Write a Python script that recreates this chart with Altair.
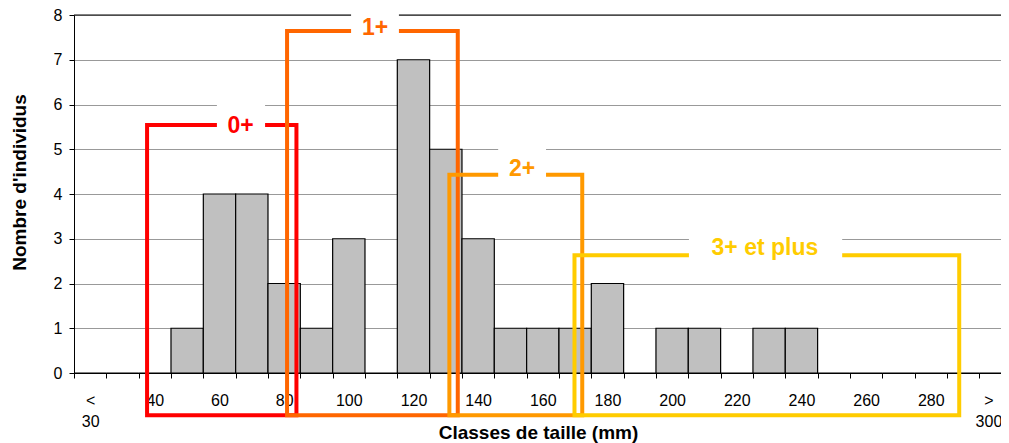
import json
import altair as alt
import pandas as pd

# Size classes (mm) and number of individuals
classes = ["<30", "30", "40", "50", "60", "70", "80", "90", "100", "110", "120",
           "130", "140", "150", "160", "170", "180", "190", "200", "210", "220",
           "230", "240", "250", "260", "270", "280", "290", ">300"]
counts = [0, 0, 0, 1, 4, 4, 2, 1, 3, 0, 7, 5, 3, 1, 1, 1, 2, 0, 1, 1, 0, 1, 1,
          0, 0, 0, 0, 0, 0]

# Age-class frames (x in class-index units, y in count units)
age_labels = ["0+", "1+", "2+", "3+ et plus"]
age_colors = ["#FF0000", "#FF6600", "#FF9900", "#FFCC00"]
age_x_start = [2.26, 6.59, 11.61, 15.48]
age_x_end = [6.88, 11.87, 15.72, 27.38]
age_y_top = [5.54, 7.64, 4.43, 2.63]
age_y_bottom = [-0.945, -0.945, -0.945, -0.945]
label_x = [5.15, 9.31, 13.86, 21.37]
label_y = [5.51, 7.72, 4.55, 2.79]
box_x_start = [4.42, 8.57, 13.12, 19.02]
box_x_end = [5.91, 10.05, 14.60, 23.76]
box_y_top = [6.03, 8.16, 5.07, 3.15]
box_y_bottom = [5.21, 7.44, 4.27, 2.48]

FONT = "Liberation Sans"
XRANGE = [0, 937.6]

bars_df = pd.DataFrame({"classe": classes, "n": counts})
ages_df = pd.DataFrame({
    "age": age_labels, "x0": age_x_start, "x1": age_x_end,
    "y0": age_y_bottom, "y1": age_y_top,
    "lx": label_x, "ly": label_y,
    "bx0": box_x_start, "bx1": box_x_end, "by0": box_y_bottom, "by1": box_y_top,
})

yscale = alt.Scale(domain=[0, 8], nice=False, zero=False)
xq = alt.Scale(domain=[0, 29], range=XRANGE, nice=False, zero=False)
col = alt.Color("age:N", scale=alt.Scale(domain=age_labels, range=age_colors), legend=None)

yaxis = alt.Axis(values=list(range(9)), tickSize=5, tickColor="black",
                 domainColor="black", gridColor="#999999", labelFontSize=16,
                 labelPadding=7, labelColor="black", title="Nombre d'individus",
                 titleFontSize=19, titleFontWeight="bold", titleX=-49, titleY=167,
                 titleAngle=-90, titleAlign="center", titleBaseline="alphabetic",
                 titleColor="black")

label_expr = (
    "datum.value == '<30' ? ['<', '30'] : datum.value == '>300' ? ['>', '300'] : "
    "(indexof(" + json.dumps(classes) + ", datum.value) % 2 == 0 ? datum.value : '')"
)

top_line = alt.Chart(pd.DataFrame({"v": [8], "a": [0], "b": [29]})).mark_rule(
    color="black", strokeWidth=1).encode(
    x=alt.X("a:Q", scale=xq, axis=None), x2="b:Q",
    y=alt.Y("v:Q", scale=yscale, axis=yaxis),
)

bars = alt.Chart(bars_df).mark_bar(color="#C0C0C0", stroke="black", strokeWidth=1.2).encode(
    x=alt.X("classe:N", sort=classes,
            scale=alt.Scale(range=XRANGE, paddingInner=0, paddingOuter=0),
            axis=alt.Axis(tickBand="extent", tickSize=5, tickColor="black",
                          domainColor="black", labelExpr=label_expr, labelAngle=0,
                          labelFontSize=16, labelPadding=14, labelLineHeight=21,
                          labelBaseline="top", labelColor="black", labelOverlap=False,
                          labelOffset={"condition": {"test": "datum.value == '>300'", "value": -7},
                                       "value": 0},
                          grid=False, title="Classes de taille (mm)", titleFontSize=19,
                          titleFontWeight="bold", titleX=464, titleY=65,
                          titleBaseline="alphabetic", titleAlign="center",
                          titleColor="black")),
    y=alt.Y("n:Q", scale=yscale, axis=yaxis),
)

frames = alt.Chart(ages_df).mark_rect(fillOpacity=0, strokeWidth=4).encode(
    x=alt.X("x0:Q", scale=xq, axis=None), x2="x1:Q",
    y=alt.Y("y0:Q", scale=yscale, axis=yaxis), y2="y1:Q",
    stroke=alt.Stroke("age:N", scale=alt.Scale(domain=age_labels, range=age_colors), legend=None),
    order=alt.Order("x0:Q"),
)

boxes = alt.Chart(ages_df).mark_rect(color="white").encode(
    x=alt.X("bx0:Q", scale=xq, axis=None), x2="bx1:Q",
    y=alt.Y("by0:Q", scale=yscale, axis=yaxis), y2="by1:Q",
)

texts = alt.Chart(ages_df).mark_text(fontSize=23, fontWeight="bold", font=FONT,
                                     baseline="middle", align="center").encode(
    x=alt.X("lx:Q", scale=xq, axis=None),
    y=alt.Y("ly:Q", scale=yscale, axis=yaxis),
    text="age:N",
    color=col,
)

chart = alt.layer(top_line, bars, frames, boxes, texts).resolve_scale(
    x="independent", color="independent", stroke="independent"
).properties(
    width=927, height=358,
    autosize=alt.AutoSizeParams(type="none"),
    padding={"left": 66, "top": 7, "right": 0, "bottom": 70},
).configure(font=FONT).configure_view(stroke=None)

chart.save("out.html", embed_options={"renderer": "svg", "actions": False})
